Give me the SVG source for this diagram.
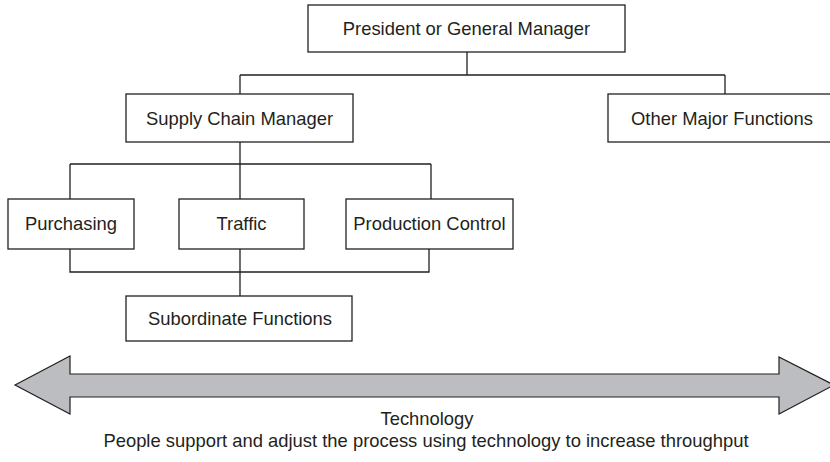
<svg xmlns="http://www.w3.org/2000/svg" width="830" height="462" viewBox="0 0 830 462">
<style>
.box{fill:#fff;stroke:#231f20;stroke-width:1.3}
.lbl{font-family:"Liberation Sans",Arial,Helvetica,sans-serif;font-size:18.4px;fill:#231f20;text-anchor:middle}
.con{fill:none;stroke:#231f20;stroke-width:1.3}
</style>
<rect width="830" height="462" fill="#fff"/>
<g id="connectors">
<path class="con" d="M467 52V75M240 75H725M240 75V94M725 75V94"/>
<path class="con" d="M240 142V164M70 164H431M70 164V199M240 164V199M431 164V199"/>
<path class="con" d="M70 249V272H429V249M240 249V296"/>
</g>
<g id="president"><rect class="box" x="308" y="5" width="317" height="47"/><text class="lbl" x="466.5" y="34.5">President or General Manager</text></g>
<g id="scm"><rect class="box" x="126" y="94" width="227" height="48"/><text class="lbl" x="239.5" y="124.5">Supply Chain Manager</text></g>
<g id="other"><rect class="box" x="608" y="94" width="230" height="48"/><text class="lbl" x="722" y="124.5">Other Major Functions</text></g>
<g id="purchasing"><rect class="box" x="8" y="199" width="126" height="50"/><text class="lbl" x="71" y="230">Purchasing</text></g>
<g id="traffic"><rect class="box" x="179" y="199" width="125" height="50"/><text class="lbl" x="241.5" y="230">Traffic</text></g>
<g id="production"><rect class="box" x="346" y="199" width="167" height="50"/><text class="lbl" x="429.5" y="230">Production Control</text></g>
<g id="subordinate"><rect class="box" x="126" y="296" width="226" height="45"/><text class="lbl" x="240" y="325">Subordinate Functions</text></g>
<g id="technology">
<polygon points="15,385 70,356 70,374 779,374 779,357 834,385 779,414 779,397 70,397 70,414" fill="#bcbdc0" stroke="#231f20" stroke-width="1.2" stroke-linejoin="miter"/>
<text class="lbl" x="427" y="425">Technology</text>
<text class="lbl" x="426" y="447">People support and adjust the process using technology to increase throughput</text>
</g>
</svg>
